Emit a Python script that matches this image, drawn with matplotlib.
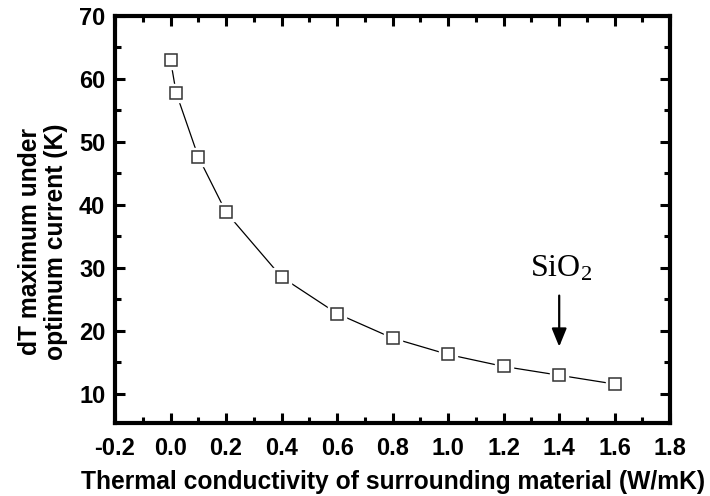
import numpy as np
import matplotlib
matplotlib.use("Agg")
import matplotlib.pyplot as plt
from matplotlib.ticker import MultipleLocator

plt.rcParams['font.family'] = ['Liberation Sans', 'DejaVu Sans']
plt.rcParams['font.weight'] = 'bold'
plt.rcParams['axes.unicode_minus'] = False

# thermal conductivity of surrounding material (W/mK) vs max dT (K)
k_values = [0.0, 0.02, 0.1, 0.2, 0.4, 0.6, 0.8, 1.0, 1.2, 1.4, 1.6]
dT_max = [63.0, 57.8, 47.6, 38.8, 28.5, 22.7, 18.8, 16.2, 14.3, 12.9, 11.5]
sio2_k = 1.4

fig = plt.figure(figsize=(7.1, 4.96), dpi=100)
ax = fig.add_axes([0.162, 0.147, 0.782, 0.821])

ax.plot(k_values, dT_max, color='black', lw=0.9, zorder=2)
# white halo so the line stops short of each marker
ax.plot(k_values, dT_max, ls='none', marker='s', ms=12.5, mfc='white',
        mec='white', zorder=3)
ax.plot(k_values, dT_max, ls='none', marker='s', ms=8.5, mfc='white',
        mec='#333333', mew=1.1, zorder=4)

ax.set_xlim(-0.2, 1.8)
ax.set_ylim(5.3, 70)
ax.xaxis.set_major_locator(MultipleLocator(0.2))
ax.xaxis.set_minor_locator(MultipleLocator(0.1))
ax.yaxis.set_major_locator(MultipleLocator(10))
ax.yaxis.set_minor_locator(MultipleLocator(5))
ax.set_yticks(np.arange(10, 71, 10))

for sp in ax.spines.values():
    sp.set_linewidth(3)
ax.tick_params(which='both', direction='in', top=True, right=True, width=2.2,
               labelsize=17)
ax.tick_params(which='major', length=7)
ax.tick_params(which='minor', length=4)
ax.tick_params(axis='x', which='major', pad=10)
ax.tick_params(axis='y', which='major', pad=7)
for lbl in ax.get_xticklabels() + ax.get_yticklabels():
    lbl.set_fontweight('bold')

ax.set_xlabel('Thermal conductivity of surrounding material (W/mK)',
              fontsize=17.7, fontweight='bold', labelpad=7)
ax.set_ylabel('dT maximum under\noptimum current (K)', fontsize=17.7,
              fontweight='bold', linespacing=1.1)
ax.yaxis.set_label_coords(-0.085, 0.445)

ax.annotate('', xy=(sio2_k, 17.0), xytext=(sio2_k, 26.0),
            arrowprops=dict(arrowstyle='-|>,head_length=1.1,head_width=0.45',
                            color='black', lw=1.6))
ax.text(sio2_k + 0.005, 29.8, r'$\mathregular{SiO_2}$', fontsize=23,
        ha='center', va='center', family='Liberation Serif',
        fontweight='normal')

fig.savefig('out.png', dpi=100)
